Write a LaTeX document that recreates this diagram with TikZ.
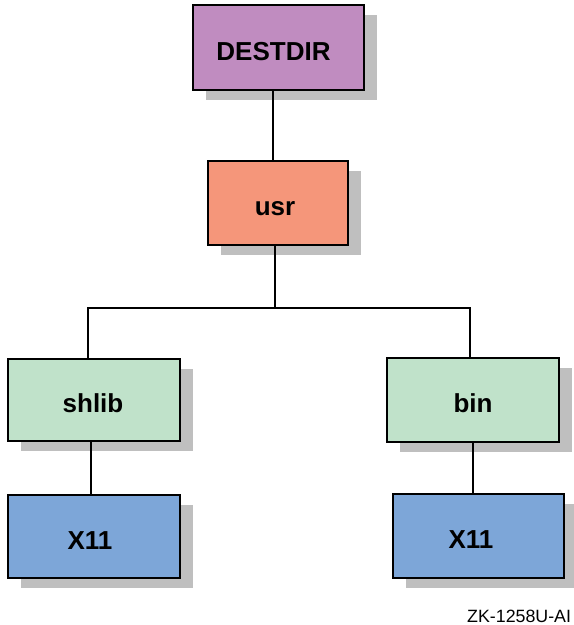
\documentclass[tikz,border=0pt]{standalone}
\usepackage{fontspec}
\setmainfont{Liberation Sans}
\usetikzlibrary{shadows,calc}

\definecolor{dirpurple}{RGB}{192,140,192}
\definecolor{usrsalmon}{RGB}{245,150,122}
\definecolor{libgreen}{RGB}{192,226,202}
\definecolor{xblue}{RGB}{125,166,216}
\definecolor{shadowgray}{RGB}{191,191,191}

\begin{document}
\begin{tikzpicture}[x=1pt,y=-1pt,
  dirbox/.style={rectangle, draw=black, line width=2pt, inner sep=0pt,
    font=\bfseries\fontsize{26}{26}\selectfont,
    text height=25pt, text depth=0pt,
    general shadow={fill=shadowgray, shadow xshift=13pt, shadow yshift=-10pt}},
  link/.style={line width=2pt, draw=black},
  tagtext/.style={font=\fontsize{17.8}{17.8}\selectfont, inner sep=0pt, anchor=base west}]

  \useasboundingbox (0,0) rectangle (574,625);

  % directory boxes (a leading negative kern moves the name left of centre)
  \node[dirbox, fill=dirpurple, minimum width=171pt, minimum height=85pt] (dest) at (278.5,47.5) {\kern-10pt DESTDIR};
  \node[dirbox, fill=usrsalmon, minimum width=140pt, minimum height=84pt] (usr) at (278,203) {\kern-6pt usr};
  \node[dirbox, fill=libgreen, minimum width=172pt, minimum height=82pt] (shlib) at (94,400) {\kern-2pt shlib};
  \node[dirbox, fill=libgreen, minimum width=172pt, minimum height=84pt] (bin) at (473,400) {bin};
  \node[dirbox, fill=xblue, minimum width=172pt, minimum height=83pt] (x11a) at (94,536.5) {\kern-8pt X11};
  \node[dirbox, fill=xblue, minimum width=171pt, minimum height=84pt] (x11b) at (478.5,536) {\kern-15pt X11};

  % tree connectors
  \coordinate (fork) at (275.3,308);
  \draw[link] ([xshift=-5.5pt]dest.south) -- ([xshift=-5pt]usr.north);
  \draw[link] ([xshift=-2.7pt]usr.south) -- (fork);
  \draw[link] ([xshift=-5.7pt]shlib.north) |- (fork) -| ([xshift=-3pt]bin.north);
  \draw[link] ([xshift=-2.7pt]shlib.south) -- ([xshift=-2.7pt]x11a.north);
  \draw[link] (bin.south) -- ([xshift=-5.5pt]x11b.north);

  % figure tag
  \node[tagtext] (tag) at (467,622) {ZK-1258U-AI};
\end{tikzpicture}
\end{document}
